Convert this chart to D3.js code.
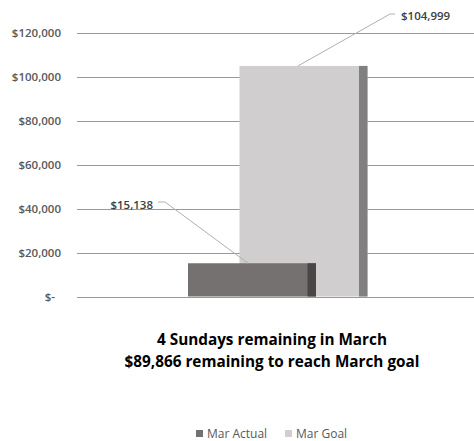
<!DOCTYPE html>
<html><head><meta charset="utf-8">
<script src="https://cdn.jsdelivr.net/npm/d3@7"></script>
<style>body{margin:0;background:#fff}svg{display:block}text{font-family:"Open Sans",sans-serif}</style>
</head><body><svg id="c" width="474" height="441"></svg>
<script>
const categories = ["Mar Actual", "Mar Goal"];
const values = [15138, 104999];
const yTicks = [0, 20000, 40000, 60000, 80000, 100000, 120000];
const valueLabels = ["$15,138", "$104,999"];
const titleLines = ["4 Sundays remaining in March", "$89,866 remaining to reach March goal"];
const faceColors = ["#767171", "#d0cece"];
const sideColors = ["#4b4646", "#808080"];

const svg = d3.select("#c");
const y = d3.scaleLinear().domain([0, 120000]).range([296.5, 33]);
const x = d3.scalePoint().domain(categories).range([252, 303.5]);
const barW = 128, sideW = 8.5;

// gridlines
svg.append("g").selectAll("line").data(yTicks).join("line")
  .attr("x1", 77).attr("x2", 474)
  .attr("y1", d => Math.round(y(d)) + 0.5).attr("y2", d => Math.round(y(d)) + 0.5)
  .attr("stroke", "#999").attr("stroke-width", 1);

// y labels
const fmt = d => d === 0 ? "$-" : "$" + d3.format(",")(d);
svg.append("g").selectAll("text").data(yTicks).join("text")
  .attr("x", d => d === 0 ? 55 : 61).attr("y", d => y(d)).attr("dy", "0.35em")
  .attr("text-anchor", "end").attr("font-size", 11.5).attr("font-weight", 600).attr("fill", "#595959")
  .text(fmt);

// bars: goal behind actual
const data = categories.map((c, i) => ({c, v: values[i], i}));
const order = [1, 0];
const g = svg.append("g");
order.forEach(i => {
  const d = data[i];
  const x0 = x(d.c) - barW / 2;
  g.append("rect").attr("x", x0).attr("y", y(d.v)).attr("width", barW)
    .attr("height", y(0) - y(d.v)).attr("fill", faceColors[i]);
  g.append("rect").attr("x", x0 + barW - sideW).attr("y", y(d.v)).attr("width", sideW)
    .attr("height", y(0) - y(d.v)).attr("fill", sideColors[i]);
});

// data labels with leader lines
const lbl = [
  {i: 0, tx: 153, ty: 205, lx: 158, ly: 202, ex: 165, px: -4},
  {i: 1, tx: 401, ty: 16, lx: 395, ly: 14, ex: 390, px: -5.5}
];
lbl.forEach(l => {
  const d = data[l.i];
  const tipX = x(d.c) + l.px;
  const tipY = y(d.v);
  svg.append("polyline")
    .attr("points", `${l.lx},${l.ly} ${l.ex},${l.ly} ${tipX},${tipY}`)
    .attr("fill", "none").attr("stroke", "#b0b0b0").attr("stroke-width", 1);
  svg.append("text").attr("x", l.tx).attr("y", l.ty).attr("dy", "0.35em")
    .attr("text-anchor", l.i === 0 ? "end" : "start")
    .attr("font-size", 11.5).attr("font-weight", 600).attr("fill", "#404040").text(valueLabels[l.i]);
});

// title
svg.append("g").selectAll("text").data(titleLines).join("text")
  .attr("x", 272).attr("y", (d, i) => 345 + i * 22)
  .attr("text-anchor", "middle").attr("font-size", 15.3).attr("font-weight", "bold")
  .attr("fill", "#000").text(d => d);

// legend
const leg = svg.append("g");
const legX = [196, 285];
categories.forEach((c, i) => {
  leg.append("rect").attr("x", legX[i]).attr("y", 430).attr("width", 7).attr("height", 7)
    .attr("fill", faceColors[i]);
  leg.append("text").attr("x", legX[i] + 11).attr("y", 437.5)
    .attr("font-size", 12).attr("fill", "#595959").text(c);
});
</script></body></html>
